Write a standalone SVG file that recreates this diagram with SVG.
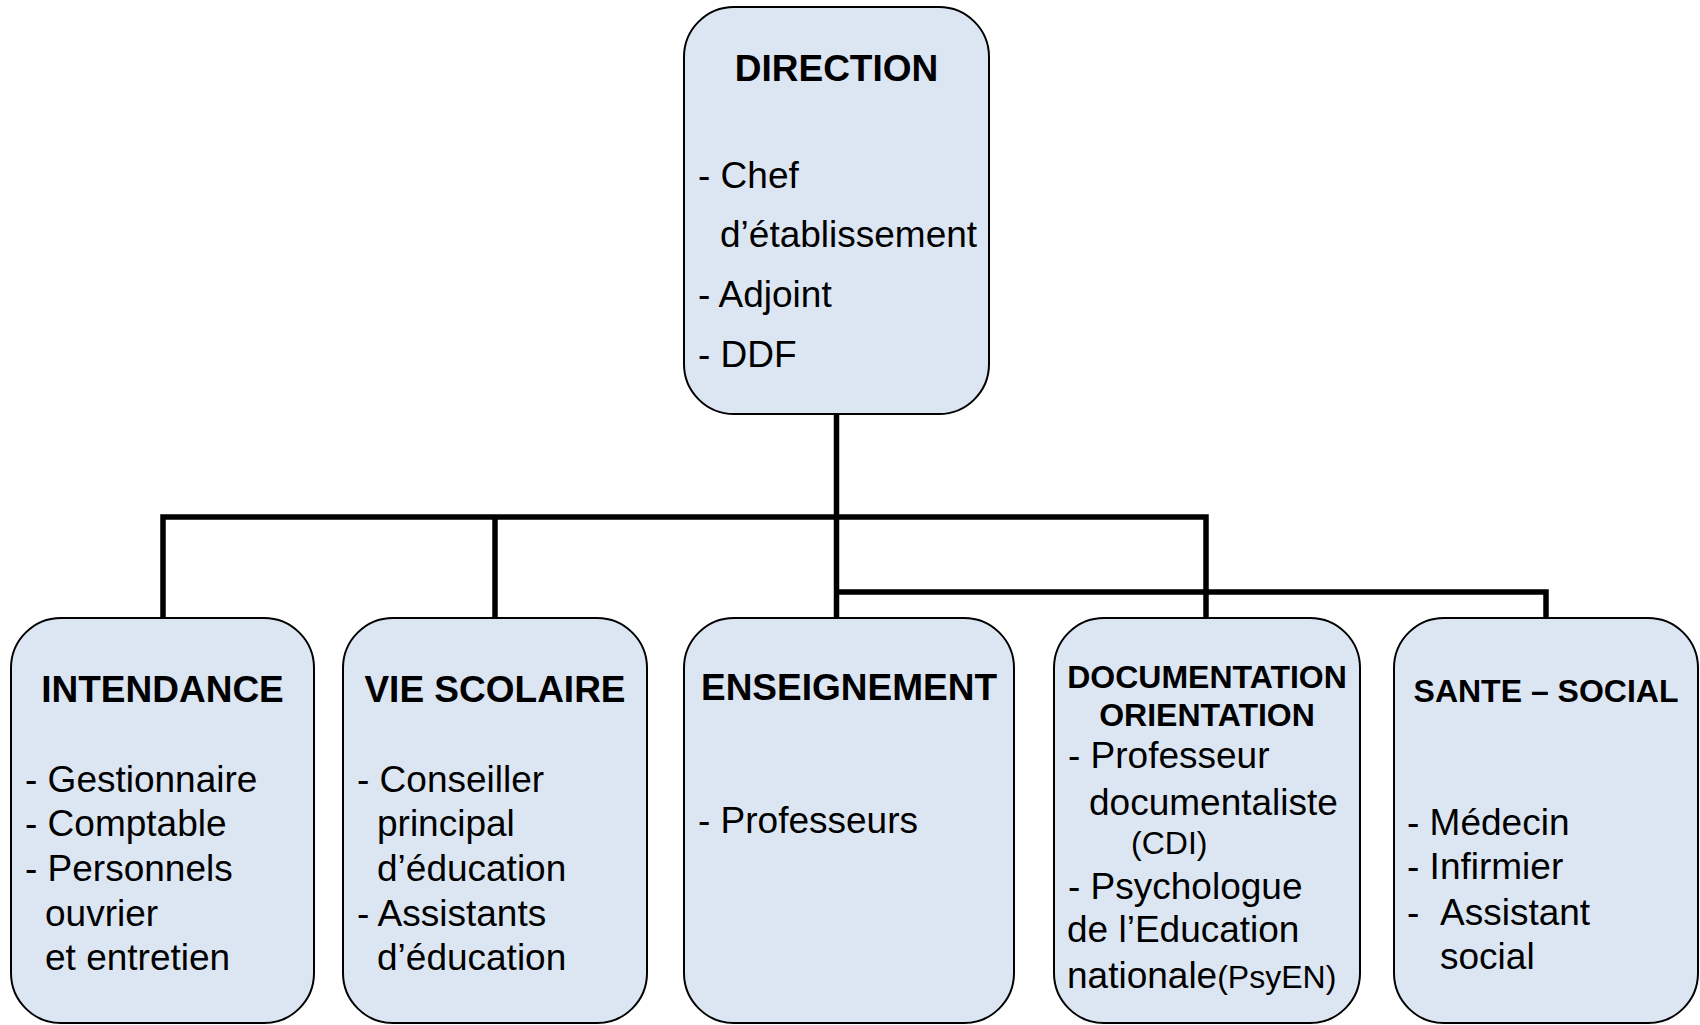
<svg xmlns="http://www.w3.org/2000/svg" width="1700" height="1025" viewBox="0 0 1700 1025">
<style>
.box{fill:#dce6f2;stroke:#000;stroke-width:2}
.t{font-family:"Liberation Sans",Arial,sans-serif;font-size:37px;fill:#000}
.b{font-weight:bold;text-anchor:middle}
.sb{font-family:"Liberation Sans",Arial,sans-serif;font-size:32px;font-weight:bold;text-anchor:middle;fill:#000}
.s{font-size:32px}
.conn{fill:none;stroke:#000;stroke-width:5.5;stroke-linejoin:miter;stroke-linecap:butt}
</style>
<rect width="1700" height="1025" fill="#fff"/>
<g id="connectors">
<path class="conn" d="M836.5 414V618"/>
<path class="conn" d="M163 618V517H1206V618"/>
<path class="conn" d="M495 517V618"/>
<path class="conn" d="M836.5 592H1546V618"/>
</g>
<g id="direction">
<rect class="box" x="684" y="7" width="305" height="407" rx="50" ry="50"/>
<text class="t b" x="836.5" y="81">DIRECTION</text>
<text class="t" x="698" y="188">- Chef</text>
<text class="t" x="720" y="247">d’établissement</text>
<text class="t" x="698" y="307">- Adjoint</text>
<text class="t" x="698" y="367">- DDF</text>
</g>
<g id="intendance">
<rect class="box" x="11" y="618" width="303" height="405" rx="50" ry="50"/>
<text class="t b" x="162.5" y="702">INTENDANCE</text>
<text class="t" x="25" y="792">- Gestionnaire</text>
<text class="t" x="25" y="836">- Comptable</text>
<text class="t" x="25" y="881">- Personnels</text>
<text class="t" x="45" y="926">ouvrier</text>
<text class="t" x="45" y="970">et entretien</text>
</g>
<g id="vie-scolaire">
<rect class="box" x="343" y="618" width="304" height="405" rx="50" ry="50"/>
<text class="t b" x="495" y="702">VIE SCOLAIRE</text>
<text class="t" x="357" y="792">- Conseiller</text>
<text class="t" x="377" y="836">principal</text>
<text class="t" x="377" y="881">d’éducation</text>
<text class="t" x="357" y="926">- Assistants</text>
<text class="t" x="377" y="970">d’éducation</text>
</g>
<g id="enseignement">
<rect class="box" x="684" y="618" width="330" height="405" rx="50" ry="50"/>
<text class="t b" x="849" y="700">ENSEIGNEMENT</text>
<text class="t" x="698" y="833">- Professeurs</text>
</g>
<g id="documentation-orientation">
<rect class="box" x="1054" y="618" width="306" height="405" rx="50" ry="50"/>
<text class="sb" x="1207" y="688">DOCUMENTATION</text>
<text class="sb" x="1207" y="726">ORIENTATION</text>
<text class="t" x="1068" y="768">- Professeur</text>
<text class="t" x="1089" y="815">documentaliste</text>
<text class="t s" x="1131" y="854">(CDI)</text>
<text class="t" x="1068" y="899">- Psychologue</text>
<text class="t" x="1067" y="942">de l’Education</text>
<text class="t" x="1067" y="988">nationale<tspan class="s">(PsyEN)</tspan></text>
</g>
<g id="sante-social">
<rect class="box" x="1394" y="618" width="304" height="405" rx="50" ry="50"/>
<text class="sb" x="1546" y="702">SANTE – SOCIAL</text>
<text class="t" x="1407" y="835">- Médecin</text>
<text class="t" x="1407" y="879">- Infirmier</text>
<text class="t" y="925"><tspan x="1407">-</tspan><tspan x="1440">Assistant</tspan></text>
<text class="t" x="1440" y="969">social</text>
</g>
</svg>
